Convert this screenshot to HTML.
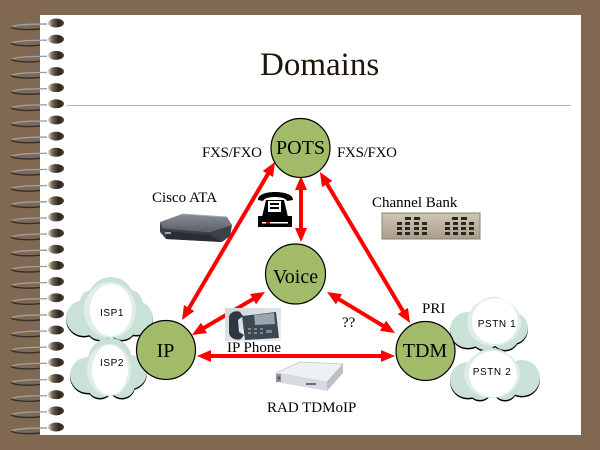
<!DOCTYPE html>
<html><head><meta charset="utf-8"><style>
html,body{margin:0;padding:0;width:600px;height:450px;overflow:hidden;background:#816850}
svg{display:block}
</style></head><body>
<svg width="600" height="450" viewBox="0 0 600 450" xmlns="http://www.w3.org/2000/svg">
<defs>
<linearGradient id="bead" x1="0" x2="1" y1="0" y2="0">
<stop offset="0" stop-color="#e0d8b8"/><stop offset="0.3" stop-color="#6a6050"/><stop offset="0.7" stop-color="#2a2620"/><stop offset="1" stop-color="#4a4438"/>
</linearGradient>
<marker id="ah" viewBox="0 0 14 12" refX="4" refY="6" markerWidth="14" markerHeight="12" markerUnits="userSpaceOnUse" orient="auto-start-reverse">
<path d="M0,0 L14,6 L0,12 z" fill="#ff0000"/>
</marker>
<linearGradient id="ata" x1="0" x2="0" y1="0" y2="1"><stop offset="0" stop-color="#8a8e96"/><stop offset="1" stop-color="#5a5e66"/></linearGradient>
<linearGradient id="cb" x1="0" x2="0" y1="0" y2="1"><stop offset="0" stop-color="#cfc6b4"/><stop offset="1" stop-color="#a89e8a"/></linearGradient>
<linearGradient id="ipp" x1="0" x2="1" y1="0" y2="1"><stop offset="0" stop-color="#cfd6dc"/><stop offset="1" stop-color="#eef0f2"/></linearGradient>
</defs>

<rect x="0" y="0" width="600" height="450" fill="#816850"/>
<rect x="40" y="15" width="541" height="420" fill="#ffffff"/>

<!-- spiral rings -->
<g id="rings">
<g transform="translate(0,23)"><path d="M47,1 C30,1 15,2 11,4" stroke="#9aa0a6" stroke-width="1.4" fill="none"/><path d="M11,4 C15,7 30,7 40,6" stroke="#303030" stroke-width="1.4" fill="none"/><ellipse cx="56" cy="0" rx="8" ry="4.5" fill="url(#bead)"/></g>
<g transform="translate(0,39.16)"><path d="M47,1 C30,1 15,2 11,4" stroke="#9aa0a6" stroke-width="1.4" fill="none"/><path d="M11,4 C15,7 30,7 40,6" stroke="#303030" stroke-width="1.4" fill="none"/><ellipse cx="56" cy="0" rx="8" ry="4.5" fill="url(#bead)"/></g>
<g transform="translate(0,55.32)"><path d="M47,1 C30,1 15,2 11,4" stroke="#9aa0a6" stroke-width="1.4" fill="none"/><path d="M11,4 C15,7 30,7 40,6" stroke="#303030" stroke-width="1.4" fill="none"/><ellipse cx="56" cy="0" rx="8" ry="4.5" fill="url(#bead)"/></g>
<g transform="translate(0,71.48)"><path d="M47,1 C30,1 15,2 11,4" stroke="#9aa0a6" stroke-width="1.4" fill="none"/><path d="M11,4 C15,7 30,7 40,6" stroke="#303030" stroke-width="1.4" fill="none"/><ellipse cx="56" cy="0" rx="8" ry="4.5" fill="url(#bead)"/></g>
<g transform="translate(0,87.64)"><path d="M47,1 C30,1 15,2 11,4" stroke="#9aa0a6" stroke-width="1.4" fill="none"/><path d="M11,4 C15,7 30,7 40,6" stroke="#303030" stroke-width="1.4" fill="none"/><ellipse cx="56" cy="0" rx="8" ry="4.5" fill="url(#bead)"/></g>
<g transform="translate(0,103.8)"><path d="M47,1 C30,1 15,2 11,4" stroke="#9aa0a6" stroke-width="1.4" fill="none"/><path d="M11,4 C15,7 30,7 40,6" stroke="#303030" stroke-width="1.4" fill="none"/><ellipse cx="56" cy="0" rx="8" ry="4.5" fill="url(#bead)"/></g>
<g transform="translate(0,119.96)"><path d="M47,1 C30,1 15,2 11,4" stroke="#9aa0a6" stroke-width="1.4" fill="none"/><path d="M11,4 C15,7 30,7 40,6" stroke="#303030" stroke-width="1.4" fill="none"/><ellipse cx="56" cy="0" rx="8" ry="4.5" fill="url(#bead)"/></g>
<g transform="translate(0,136.12)"><path d="M47,1 C30,1 15,2 11,4" stroke="#9aa0a6" stroke-width="1.4" fill="none"/><path d="M11,4 C15,7 30,7 40,6" stroke="#303030" stroke-width="1.4" fill="none"/><ellipse cx="56" cy="0" rx="8" ry="4.5" fill="url(#bead)"/></g>
<g transform="translate(0,152.28)"><path d="M47,1 C30,1 15,2 11,4" stroke="#9aa0a6" stroke-width="1.4" fill="none"/><path d="M11,4 C15,7 30,7 40,6" stroke="#303030" stroke-width="1.4" fill="none"/><ellipse cx="56" cy="0" rx="8" ry="4.5" fill="url(#bead)"/></g>
<g transform="translate(0,168.44)"><path d="M47,1 C30,1 15,2 11,4" stroke="#9aa0a6" stroke-width="1.4" fill="none"/><path d="M11,4 C15,7 30,7 40,6" stroke="#303030" stroke-width="1.4" fill="none"/><ellipse cx="56" cy="0" rx="8" ry="4.5" fill="url(#bead)"/></g>
<g transform="translate(0,184.6)"><path d="M47,1 C30,1 15,2 11,4" stroke="#9aa0a6" stroke-width="1.4" fill="none"/><path d="M11,4 C15,7 30,7 40,6" stroke="#303030" stroke-width="1.4" fill="none"/><ellipse cx="56" cy="0" rx="8" ry="4.5" fill="url(#bead)"/></g>
<g transform="translate(0,200.76)"><path d="M47,1 C30,1 15,2 11,4" stroke="#9aa0a6" stroke-width="1.4" fill="none"/><path d="M11,4 C15,7 30,7 40,6" stroke="#303030" stroke-width="1.4" fill="none"/><ellipse cx="56" cy="0" rx="8" ry="4.5" fill="url(#bead)"/></g>
<g transform="translate(0,216.92)"><path d="M47,1 C30,1 15,2 11,4" stroke="#9aa0a6" stroke-width="1.4" fill="none"/><path d="M11,4 C15,7 30,7 40,6" stroke="#303030" stroke-width="1.4" fill="none"/><ellipse cx="56" cy="0" rx="8" ry="4.5" fill="url(#bead)"/></g>
<g transform="translate(0,233.08)"><path d="M47,1 C30,1 15,2 11,4" stroke="#9aa0a6" stroke-width="1.4" fill="none"/><path d="M11,4 C15,7 30,7 40,6" stroke="#303030" stroke-width="1.4" fill="none"/><ellipse cx="56" cy="0" rx="8" ry="4.5" fill="url(#bead)"/></g>
<g transform="translate(0,249.24)"><path d="M47,1 C30,1 15,2 11,4" stroke="#9aa0a6" stroke-width="1.4" fill="none"/><path d="M11,4 C15,7 30,7 40,6" stroke="#303030" stroke-width="1.4" fill="none"/><ellipse cx="56" cy="0" rx="8" ry="4.5" fill="url(#bead)"/></g>
<g transform="translate(0,265.4)"><path d="M47,1 C30,1 15,2 11,4" stroke="#9aa0a6" stroke-width="1.4" fill="none"/><path d="M11,4 C15,7 30,7 40,6" stroke="#303030" stroke-width="1.4" fill="none"/><ellipse cx="56" cy="0" rx="8" ry="4.5" fill="url(#bead)"/></g>
<g transform="translate(0,281.56)"><path d="M47,1 C30,1 15,2 11,4" stroke="#9aa0a6" stroke-width="1.4" fill="none"/><path d="M11,4 C15,7 30,7 40,6" stroke="#303030" stroke-width="1.4" fill="none"/><ellipse cx="56" cy="0" rx="8" ry="4.5" fill="url(#bead)"/></g>
<g transform="translate(0,297.72)"><path d="M47,1 C30,1 15,2 11,4" stroke="#9aa0a6" stroke-width="1.4" fill="none"/><path d="M11,4 C15,7 30,7 40,6" stroke="#303030" stroke-width="1.4" fill="none"/><ellipse cx="56" cy="0" rx="8" ry="4.5" fill="url(#bead)"/></g>
<g transform="translate(0,313.88)"><path d="M47,1 C30,1 15,2 11,4" stroke="#9aa0a6" stroke-width="1.4" fill="none"/><path d="M11,4 C15,7 30,7 40,6" stroke="#303030" stroke-width="1.4" fill="none"/><ellipse cx="56" cy="0" rx="8" ry="4.5" fill="url(#bead)"/></g>
<g transform="translate(0,330.04)"><path d="M47,1 C30,1 15,2 11,4" stroke="#9aa0a6" stroke-width="1.4" fill="none"/><path d="M11,4 C15,7 30,7 40,6" stroke="#303030" stroke-width="1.4" fill="none"/><ellipse cx="56" cy="0" rx="8" ry="4.5" fill="url(#bead)"/></g>
<g transform="translate(0,346.2)"><path d="M47,1 C30,1 15,2 11,4" stroke="#9aa0a6" stroke-width="1.4" fill="none"/><path d="M11,4 C15,7 30,7 40,6" stroke="#303030" stroke-width="1.4" fill="none"/><ellipse cx="56" cy="0" rx="8" ry="4.5" fill="url(#bead)"/></g>
<g transform="translate(0,362.36)"><path d="M47,1 C30,1 15,2 11,4" stroke="#9aa0a6" stroke-width="1.4" fill="none"/><path d="M11,4 C15,7 30,7 40,6" stroke="#303030" stroke-width="1.4" fill="none"/><ellipse cx="56" cy="0" rx="8" ry="4.5" fill="url(#bead)"/></g>
<g transform="translate(0,378.52)"><path d="M47,1 C30,1 15,2 11,4" stroke="#9aa0a6" stroke-width="1.4" fill="none"/><path d="M11,4 C15,7 30,7 40,6" stroke="#303030" stroke-width="1.4" fill="none"/><ellipse cx="56" cy="0" rx="8" ry="4.5" fill="url(#bead)"/></g>
<g transform="translate(0,394.68)"><path d="M47,1 C30,1 15,2 11,4" stroke="#9aa0a6" stroke-width="1.4" fill="none"/><path d="M11,4 C15,7 30,7 40,6" stroke="#303030" stroke-width="1.4" fill="none"/><ellipse cx="56" cy="0" rx="8" ry="4.5" fill="url(#bead)"/></g>
<g transform="translate(0,410.84)"><path d="M47,1 C30,1 15,2 11,4" stroke="#9aa0a6" stroke-width="1.4" fill="none"/><path d="M11,4 C15,7 30,7 40,6" stroke="#303030" stroke-width="1.4" fill="none"/><ellipse cx="56" cy="0" rx="8" ry="4.5" fill="url(#bead)"/></g>
<g transform="translate(0,427)"><path d="M47,1 C30,1 15,2 11,4" stroke="#9aa0a6" stroke-width="1.4" fill="none"/><path d="M11,4 C15,7 30,7 40,6" stroke="#303030" stroke-width="1.4" fill="none"/><ellipse cx="56" cy="0" rx="8" ry="4.5" fill="url(#bead)"/></g>
</g>

<!-- title -->
<text x="260" y="75" font-family="Liberation Serif, serif" font-size="33" fill="#1e1408">Domains</text>
<rect x="67" y="105" width="504" height="1" fill="#c4b486"/>

<!-- clouds: shadow outline then fill -->
<g fill="#000" transform="translate(0,1.5)">
<circle cx="111" cy="300" r="23"/><circle cx="84" cy="318" r="18"/><circle cx="136" cy="318" r="17"/><circle cx="100" cy="326" r="14"/><circle cx="122" cy="326" r="14"/><circle cx="92" cy="302" r="12"/><circle cx="130" cy="302" r="12"/>
<circle cx="110" cy="360" r="22"/><circle cx="88" cy="375" r="18"/><circle cx="130" cy="372" r="17"/><circle cx="100" cy="385" r="13"/><circle cx="122" cy="385" r="13"/>
<circle cx="494" cy="318" r="21"/><circle cx="468" cy="330" r="18"/><circle cx="512" cy="328" r="16"/><circle cx="485" cy="336" r="14"/><circle cx="505" cy="336" r="14"/>
<circle cx="492" cy="370" r="22"/><circle cx="468" cy="380" r="18"/><circle cx="522" cy="378" r="18"/><circle cx="480" cy="388" r="12"/><circle cx="505" cy="388" r="12"/>
</g>
<g fill="#c9e1d6">
<circle cx="111" cy="300" r="23"/><circle cx="84" cy="318" r="18"/><circle cx="136" cy="318" r="17"/><circle cx="100" cy="326" r="14"/><circle cx="122" cy="326" r="14"/><circle cx="92" cy="302" r="12"/><circle cx="130" cy="302" r="12"/>
<circle cx="110" cy="360" r="22"/><circle cx="88" cy="375" r="18"/><circle cx="130" cy="372" r="17"/><circle cx="100" cy="385" r="13"/><circle cx="122" cy="385" r="13"/>
<circle cx="494" cy="318" r="21"/><circle cx="468" cy="330" r="18"/><circle cx="512" cy="328" r="16"/><circle cx="485" cy="336" r="14"/><circle cx="505" cy="336" r="14"/>
<circle cx="492" cy="370" r="22"/><circle cx="468" cy="380" r="18"/><circle cx="522" cy="378" r="18"/><circle cx="480" cy="388" r="12"/><circle cx="505" cy="388" r="12"/>
</g>
<g fill="#dfeee8">
<ellipse cx="110" cy="310" rx="26" ry="28"/>
<ellipse cx="109" cy="370" rx="22" ry="26"/>
<ellipse cx="494" cy="322" rx="27" ry="24"/>
<ellipse cx="492" cy="374" rx="28" ry="24"/>
</g>
<g fill="#ffffff">
<ellipse cx="111" cy="310" rx="21" ry="26"/>
<ellipse cx="110" cy="370" rx="18" ry="25"/>
<ellipse cx="495" cy="321" rx="23" ry="23"/>
<ellipse cx="493" cy="374" rx="24" ry="23"/>
</g>
<g font-family="Liberation Sans, sans-serif" font-size="10" fill="#000" text-anchor="middle" letter-spacing="0.6">
<text x="112" y="316">ISP1</text>
<text x="112" y="366">ISP2</text>
<text x="497" y="327">PSTN 1</text>
<text x="492" y="375">PSTN 2</text>
</g>

<!-- arrows -->
<g stroke="#ff0000" stroke-width="4" fill="none" marker-start="url(#ah)" marker-end="url(#ah)">
<line x1="301" y1="186" x2="301" y2="232"/>
<line x1="187.1" y1="311.4" x2="269.9" y2="170.6"/>
<line x1="325.1" y1="180.6" x2="404.9" y2="314.4"/>
<line x1="200.6" y1="329.9" x2="256.4" y2="297.1"/>
<line x1="335.6" y1="297.2" x2="386.4" y2="327.8"/>
<line x1="207" y1="356" x2="385" y2="356"/>
</g>

<!-- circles -->
<g fill="#a1bb69" stroke="#000" stroke-width="1.2">
<circle cx="300.5" cy="148" r="29.5"/>
<circle cx="295.5" cy="274" r="30"/>
<circle cx="166" cy="350" r="29.5"/>
<circle cx="425.5" cy="351" r="29.5"/>
</g>
<g font-family="Liberation Serif, serif" font-size="20" fill="#000" text-anchor="middle">
<text x="300.5" y="154">POTS</text>
<text x="295.5" y="283">Voice</text>
<text x="165.5" y="357">IP</text>
<text x="425" y="357">TDM</text>
</g>

<!-- labels -->
<g font-family="Liberation Serif, serif" font-size="15" fill="#000">
<text x="202" y="157" textLength="60">FXS/FXO</text>
<text x="337" y="157" textLength="60">FXS/FXO</text>
<text x="152" y="202">Cisco ATA</text>
<text x="372" y="207">Channel Bank</text>
<text x="422" y="313">PRI</text>
<text x="342" y="327">??</text>
<text x="227" y="352">IP Phone</text>
<text x="267" y="412">RAD TDMoIP</text>
</g>

<!-- Cisco ATA box -->
<g>
<polygon points="160,222 182,214 227,217 232,225 210,232 163,228" fill="url(#ata)"/>
<polygon points="160,222 163,228 210,232 232,225 230,236 222,242 166,239 160,232" fill="#3c4048"/>
<polygon points="166,231 210,235 222,242 166,239" fill="#2a2d33"/>
<rect x="165" y="232" width="6" height="2" fill="#9aa"/>
<line x1="182" y1="214" x2="227" y2="217" stroke="#a8acb4" stroke-width="1"/>
</g>

<!-- telephone icon -->
<g>
<path d="M258,200 C258,193 270,192 275,192 C280,192 293,193 293,200 L287,201 C286,198 280,197 275,197 C270,197 264,198 263,201 Z" fill="#000"/>
<path d="M266,200 L284,200 L288,217 L262,217 Z" fill="#000"/>
<rect x="268" y="201" width="13" height="11" fill="#fff"/>
<rect x="270" y="203" width="9" height="2" fill="#000"/>
<rect x="270" y="207" width="9" height="2" fill="#000"/>
<rect x="258" y="216" width="34" height="11" fill="#000"/>
<rect x="262" y="222" width="26" height="1.5" fill="#fff"/>
<rect x="266" y="222" width="4" height="1.5" fill="#e00"/>
</g>

<!-- Channel bank -->
<g>
<rect x="382" y="213" width="98" height="26" fill="url(#cb)"/>
<rect x="382" y="213" width="98" height="26" fill="none" stroke="#8a806e" stroke-width="1"/>
<g fill="#2a2622">
<rect x="405" y="217" width="6" height="3"/><rect x="414" y="217" width="6" height="3"/>
<rect x="452" y="217" width="6" height="3"/><rect x="461" y="217" width="6" height="3"/>
<rect x="397" y="222" width="5" height="3"/><rect x="405" y="222" width="5" height="3"/><rect x="414" y="222" width="5" height="3"/><rect x="422" y="222" width="5" height="3"/>
<rect x="397" y="227" width="5" height="3"/><rect x="405" y="227" width="5" height="3"/><rect x="414" y="227" width="5" height="3"/><rect x="422" y="227" width="5" height="3"/>
<rect x="397" y="232" width="5" height="3"/><rect x="405" y="232" width="5" height="3"/><rect x="414" y="232" width="5" height="3"/><rect x="422" y="232" width="5" height="3"/>
<rect x="445" y="222" width="5" height="3"/><rect x="453" y="222" width="5" height="3"/><rect x="461" y="222" width="5" height="3"/><rect x="469" y="222" width="5" height="3"/>
<rect x="445" y="227" width="5" height="3"/><rect x="453" y="227" width="5" height="3"/><rect x="461" y="227" width="5" height="3"/><rect x="469" y="227" width="5" height="3"/>
<rect x="445" y="232" width="5" height="3"/><rect x="453" y="232" width="5" height="3"/><rect x="461" y="232" width="5" height="3"/><rect x="469" y="232" width="5" height="3"/>
</g>
</g>

<!-- IP phone image -->
<g>
<rect x="225" y="308" width="56" height="33" fill="url(#ipp)"/>
<path d="M229,318 C229,312 236,310 240,312 L243,316 L238,320 L239,332 L244,335 L241,339 C236,341 229,338 229,332 Z" fill="#2e3640"/>
<polygon points="242,316 276,312 279,338 245,340" fill="#3e4852"/>
<polygon points="254,315 274,313 275,324 255,325" fill="#9aa6ae"/>
<g fill="#7a8690"><rect x="248" y="328" width="3" height="2"/><rect x="254" y="328" width="3" height="2"/><rect x="260" y="328" width="3" height="2"/><rect x="248" y="332" width="3" height="2"/><rect x="254" y="332" width="3" height="2"/><rect x="260" y="332" width="3" height="2"/><rect x="266" y="330" width="6" height="3"/></g>
</g>

<!-- RAD TDMoIP box -->
<g>
<polygon points="276,373 300,362 343,364 327,382" fill="#eef0f4" stroke="#c0c4cc" stroke-width="0.8"/>
<polygon points="276,373 327,382 327,391 276,382" fill="#d6dae2"/>
<polygon points="327,382 343,364 343,373 327,391" fill="#bcc0c8"/>
<rect x="276" y="374" width="5" height="8" fill="#8696b4"/>
<circle cx="279" cy="378" r="1.5" fill="#d02020"/>
<rect x="306" y="383" width="10" height="2" fill="#6a6e76"/>
</g>
</svg>
</body></html>
